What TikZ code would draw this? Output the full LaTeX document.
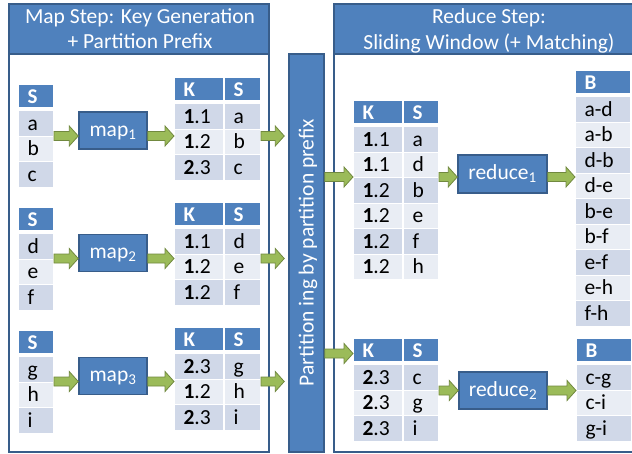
\documentclass[tikz,border=0pt]{standalone}
\usepackage{fontspec}
\setmainfont{Carlito}
\usetikzlibrary{calc}
\definecolor{hblue}{HTML}{4F81BD}
\definecolor{bblue}{HTML}{385D8A}
\definecolor{rdark}{HTML}{D0D8E8}
\definecolor{rlight}{HTML}{E9EDF4}
\definecolor{gfill}{HTML}{9BBB59}
\definecolor{gdraw}{HTML}{71893F}
\newcommand\kval[2]{\textbf{#1}.#2}
\tikzset{
  frameline/.style={draw=bblue, line width=1.6pt, fill=white},
  framehead/.style={draw=bblue, line width=1.6pt, fill=hblue},
  headtext/.style={anchor=base, text=white, font=\fontsize{21.5}{25}\selectfont, inner sep=0pt},
  hcell/.style={anchor=north west, rectangle, fill=hblue, draw=white, line width=1pt, inner xsep=9pt, inner ysep=0pt, minimum height=23pt, text height=16pt, text depth=2pt, align=left, text=white, font=\fontsize{21}{25}\selectfont\bfseries},
  bcell/.style={hcell, minimum height=25.5pt, text=black, font=\fontsize{21.5}{25}\selectfont},
  procbox/.style={rectangle, fill=hblue, draw=bblue, line width=1.5pt, text=white, font=\fontsize{21.5}{25}\selectfont, inner sep=0pt, text height=11pt, text depth=0pt},
  barbox/.style={rectangle, fill=hblue, draw=bblue, line width=1.5pt, minimum width=35pt, minimum height=398pt, inner sep=0pt},
  bartext/.style={rotate=90, text=white, font=\fontsize{21.5}{25}\selectfont, inner sep=0pt},
  garrow/.style={fill=gfill, draw=gdraw, line width=0.8pt, line join=miter, to path={
    let \p1=(\tikztostart), \p2=(\tikztotarget) in
    (\x1,\y1+4.5pt) -- (\x2-9pt,\y1+4.5pt) -- (\x2-9pt,\y1+10pt) -- (\x2,\y1) -- (\x2-9pt,\y1-10pt) -- (\x2-9pt,\y1-4.5pt) -- (\x1,\y1-4.5pt) -- cycle}},
}
\newcommand\kstab[5]{%
  \node[hcell, text width=#3] (#1-hk) at (#2) {K};
  \node[hcell, text width=#4] (#1-hs) at (#1-hk.north east) {S};
  \foreach \kk/\ss [count=\i] in {#5} {%
    \ifodd\i\relax\def\rc{rdark}\else\def\rc{rlight}\fi
    \node[bcell, fill=\rc, text width=#3] (#1-k\i) at ($(#1-hk.north west)+(0,{26+(\i-1)*25.5})$) {\kk};
    \node[bcell, fill=\rc, text width=#4] (#1-s\i) at (#1-k\i.north east) {\ss};
  }%
}
\newcommand\onetab[5]{%
  \node[hcell, text width=#4] (#1-h) at (#2) {#3};
  \foreach \ss [count=\i] in {#5} {%
    \ifodd\i\relax\def\rc{rdark}\else\def\rc{rlight}\fi
    \node[bcell, fill=\rc, text width=#4] (#1-r\i) at ($(#1-h.north west)+(0,{26+(\i-1)*25.5})$) {\ss};
  }%
}
\begin{document}
\begin{tikzpicture}[x=1pt, y=-1pt]
\useasboundingbox (0,0) rectangle (632,453);
% frames
\draw[frameline] (9,4) rectangle (269,452);
\draw[framehead] (9,4) rectangle (269,54);
\draw[frameline] (334,4) rectangle (644,452);
\draw[framehead] (334,4) rectangle (644,54);
\node[headtext] (lh1) at (140,23) {Map Step: Key Generation};
\node[headtext] (lh2) at (140,48) {+ Partition Prefix};
\node[headtext] (rh1) at (489,23) {Reduce Step:};
\node[headtext] (rh2) at (489,49) {Sliding Window (+ Matching)};
% partition bar
\node[barbox] (bar) at (306.5,253) {};
\node[bartext] (bart) at (308,252.5) {Partition ing by partition prefix};
% map side tables
\onetab{s1}{18,84}{S}{17pt}{a,b,c}
\onetab{s2}{18,207}{S}{17pt}{d,e,f}
\onetab{s3}{18,330}{S}{17pt}{g,h,i}
\kstab{ks1}{174,77}{31pt}{18pt}{\kval11/a,\kval12/b,\kval23/c}
\kstab{ks2}{174,202}{31pt}{18pt}{\kval11/d,\kval12/e,\kval12/f}
\kstab{ks3}{174,327}{31pt}{18pt}{\kval23/g,\kval12/h,\kval23/i}
\node[procbox, minimum width=68pt, minimum height=37pt] (m1) at (113,130.5) {map\textsubscript{1}};
\node[procbox, minimum width=68pt, minimum height=37pt] (m2) at (113,253) {map\textsubscript{2}};
\node[procbox, minimum width=68pt, minimum height=37pt] (m3) at (113,376) {map\textsubscript{3}};
% reduce side
\kstab{kr1}{353,100}{31pt}{17pt}{\kval11/a,\kval11/d,\kval12/b,\kval12/e,\kval12/f,\kval12/h}
\kstab{kr2}{353,338}{31pt}{17pt}{\kval23/c,\kval23/g,\kval23/i}
\node[procbox, minimum width=89pt, minimum height=38pt] (r1) at (502.5,174) {reduce\textsubscript{1}};
\node[procbox, minimum width=88pt, minimum height=37pt] (r2) at (503,390.5) {reduce\textsubscript{2}};
\onetab{b1}{575,70}{B}{37pt}{a-d,a-b,d-b,d-e,b-e,b-f,e-f,e-h,f-h}
\onetab{b2}{576,338}{B}{37pt}{c-g,c-i,g-i}
% arrows
\foreach \g in {1,2,3} {
  \draw[garrow] ($(m\g.west -| s\g-h.east)+(0,5.5)$) to ($(m\g.west)+(0,5.5)$);
  \draw[garrow] ($(m\g.east)+(0,5.5)$) to ($(m\g.east -| ks\g-hk.west)+(0,5.5)$);
  \draw[garrow] ($(m\g.east -| ks\g-hs.east)+(0,5.5)$) to ($(m\g.east -| bar.west)+(-4,5.5)$);
}
\draw[garrow] ($(r1.west -| bar.east)+(0,3)$) to ($(r1.west -| kr1-hk.west)+(0,3)$);
\draw[garrow] ($(r1.west -| kr1-hs.east)+(0,3)$) to ($(r1.west)+(0,3)$);
\draw[garrow] ($(r1.east)+(0,3)$) to ($(r1.east -| b1-h.west)+(0,3)$);
\draw[garrow] ($(kr2-hk.west -| bar.east)+(0,3.5)$) to ($(kr2-hk.west)+(0,3.5)$);
\draw[garrow] (r2.west -| kr2-hs.east) to (r2.west);
\draw[garrow] (r2.east) to (r2.east -| b2-h.west);
\end{tikzpicture}
\end{document}
